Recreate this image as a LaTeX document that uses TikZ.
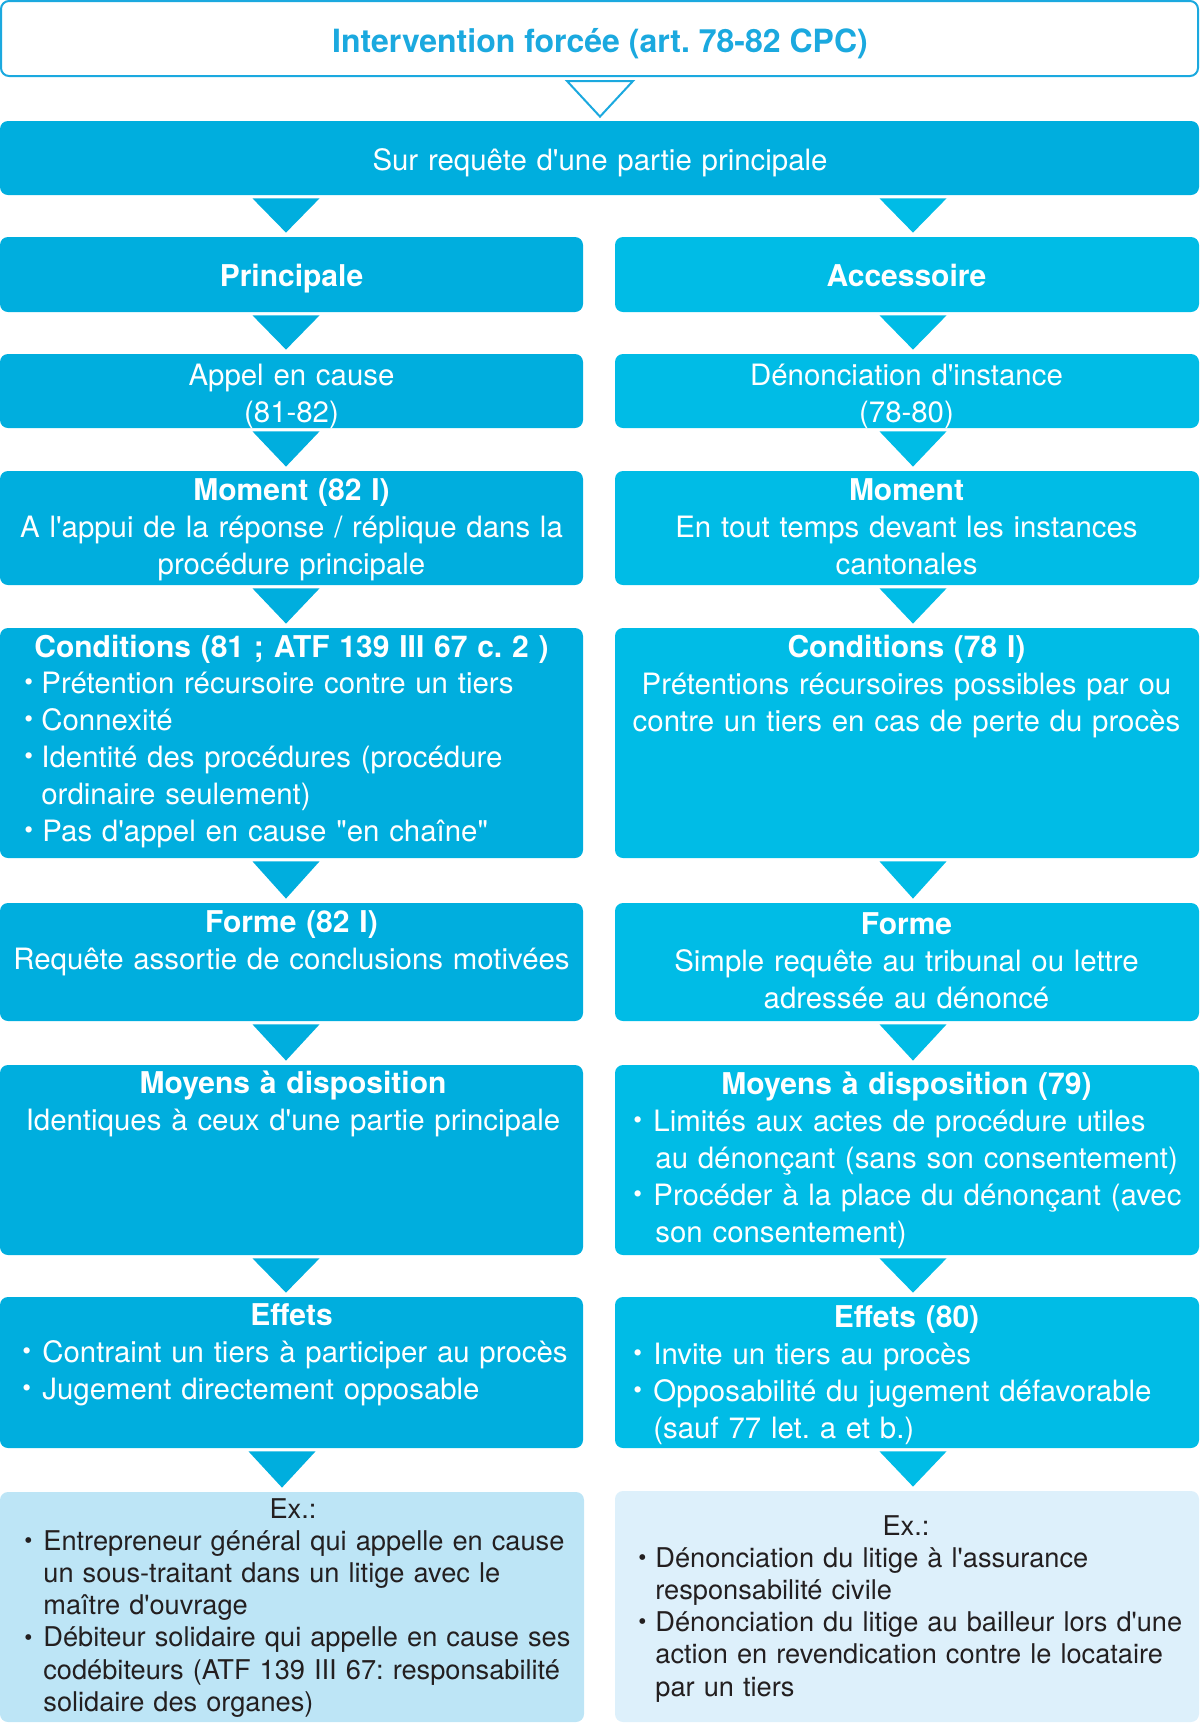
\documentclass[tikz,border=0pt]{standalone}
\usepackage{fontspec}
\setmainfont{TeX Gyre Heros}[Ligatures=TeXOff]
\usepackage{graphicx}
\usetikzlibrary{fit,calc}
\frenchspacing
\definecolor{lcol}{HTML}{00AEDE}
\definecolor{rcol}{HTML}{00BCE6}
\definecolor{tcol}{HTML}{1BA9DF}
\definecolor{exl}{HTML}{BDE5F6}
\definecolor{exr}{HTML}{DDF0FB}
\definecolor{extext}{HTML}{231F20}
\newcommand\bodyfont{\frenchspacing\fontsize{14.7}{18.5}\selectfont}
\newcommand\exfont{\frenchspacing\fontsize{13.6}{16.15}\selectfont}
\newcommand\hd[1]{{\fontsize{15}{18.5}\selectfont\bfseries #1}}
\newcommand\bul[1][7pt]{\makebox[#1][l]{\raisebox{0.07em}{\scalebox{0.85}{•}}}}
\newcommand\ind[1][7pt]{\hspace*{#1}}
\newcommand\arrowtri[4]{%
  \fill[#4] ($(#1.south -| #3)+(-33.5,3)$) -- ($(#1.south -| #3)+(33.5,3)$) -- ($(#2.north -| #3)+(0,-4)$) -- cycle;}
\begin{document}
\begin{tikzpicture}[x=0.5pt,y=-0.5pt,
  lbox/.style={fill=lcol, draw=none, rounded corners=4pt, inner sep=0pt},
  rbox/.style={fill=rcol, draw=none, rounded corners=4pt, inner sep=0pt},
  exlbox/.style={fill=exl, draw=none, rounded corners=4pt, inner sep=0pt},
  exrbox/.style={fill=exr, draw=none, rounded corners=4pt, inner sep=0pt},
  tbox/.style={fill=white, draw=tcol, line width=1pt, rounded corners=4pt, inner sep=0pt},
  titletext/.style={text=tcol, font=\frenchspacing\fontsize{16}{19}\selectfont\bfseries, inner sep=0pt, anchor=base},
  ctext/.style={text=white, font=\bodyfont, text width=300pt, align=center, inner sep=0pt, anchor=base},
  btext/.style={text=white, font=\bodyfont, text width=295pt, align=left, inner sep=0pt, anchor=base west},
  exhead/.style={text=extext, font=\exfont, text width=290pt, align=center, inner sep=0pt, anchor=base},
  exbody/.style={text=extext, font=\exfont, text width=290pt, align=left, inner sep=0pt, anchor=base west},
]
\useasboundingbox (0,0) rectangle (1200,1726);
\coordinate (mid) at (600,0);
\coordinate (cl) at (286,0);
\coordinate (cr) at (913,0);
\coordinate (clx) at (282,0);

% title
\node[tbox, fit={(1,1)(1198,76)}] (title) {};
\node[titletext] (titleT) at (600,52) {Intervention forcée (art. 78-82 CPC)};
\node[lbox, fit={(0,121)(1199,195)}] (sur) {};
\node[ctext, text width=500pt] (surT) at (600,170) {Sur requête d'une partie principale};
\filldraw[fill=white, draw=tcol, line width=1pt, line join=miter]
  ($(title.south -| mid)+(-33,4)$) -- ($(title.south -| mid)+(33,4)$) -- ($(sur.north -| mid)+(0,-4)$) -- cycle;

% left column boxes
\node[lbox, fit={(0,237)(583,312)}] (prin) {};
\node[lbox, fit={(0,354)(583,428)}] (appel) {};
\node[lbox, fit={(0,471)(583,585)}] (momL) {};
\node[lbox, fit={(0,628)(583,858)}] (condL) {};
\node[lbox, fit={(0,903)(583,1021)}] (formL) {};
\node[lbox, fit={(0,1065)(583,1255)}] (moyL) {};
\node[lbox, fit={(0,1297)(583,1448)}] (effL) {};
\node[exlbox, fit={(0,1492)(584,1722)}] (exL) {};

% right column boxes
\node[rbox, fit={(615,237)(1199,312)}] (acc) {};
\node[rbox, fit={(615,354)(1199,428)}] (denon) {};
\node[rbox, fit={(615,471)(1199,585)}] (momR) {};
\node[rbox, fit={(615,628)(1199,858)}] (condR) {};
\node[rbox, fit={(615,903)(1199,1021)}] (formR) {};
\node[rbox, fit={(615,1065)(1199,1255)}] (moyR) {};
\node[rbox, fit={(615,1297)(1199,1448)}] (effR) {};
\node[exrbox, fit={(615,1491)(1199,1722)}] (exR) {};

% arrows
\arrowtri{sur}{prin}{cl}{lcol}
\arrowtri{sur}{acc}{cr}{rcol}
\arrowtri{prin}{appel}{cl}{lcol}
\arrowtri{appel}{momL}{cl}{lcol}
\arrowtri{momL}{condL}{cl}{lcol}
\arrowtri{condL}{formL}{cl}{lcol}
\arrowtri{formL}{moyL}{cl}{lcol}
\arrowtri{moyL}{effL}{cl}{lcol}
\arrowtri{effL}{exL}{clx}{lcol}
\arrowtri{acc}{denon}{cr}{rcol}
\arrowtri{denon}{momR}{cr}{rcol}
\arrowtri{momR}{condR}{cr}{rcol}
\arrowtri{condR}{formR}{cr}{rcol}
\arrowtri{formR}{moyR}{cr}{rcol}
\arrowtri{moyR}{effR}{cr}{rcol}
\arrowtri{effR}{exR}{cr}{rcol}

% left texts
\node[ctext] (prinT) at (291.5,286) {\hd{Principale}};
\node[ctext] (appelT) at (291.5,385) {Appel en cause\\(81-82)};
\node[ctext] (momLT) at (291.5,500) {\hd{Moment (82 I)}\\A l'appui de la réponse / réplique dans la\\procédure principale};
\node[ctext] (condLH) at (291.5,657) {\hd{Conditions (81 ; ATF 139 III 67 c. 2 )}};
\node[btext] (condLB) at (24,693) {\bul[8.5pt]Prétention récursoire contre un tiers\\
\bul[8.5pt]Connexité\\
\bul[8.5pt]Identité des procédures (procédure\\
\ind[8.5pt]ordinaire seulement)\\
\bul[9pt]Pas d'appel en cause "en chaîne"};
\node[ctext] (formLT) at (291.5,932) {\hd{Forme (82 I)}\\Requête assortie de conclusions motivées};
\node[ctext] (moyLT) at (293,1093) {\hd{Moyens à disposition}\\Identiques à ceux d'une partie principale};
\node[ctext] (effLH) at (291.5,1325) {\hd{Effets}};
\node[btext] (effLB) at (22,1362) {\bul[10pt]Contraint un tiers à participer au procès\\
\bul[10pt]Jugement directement opposable};
\node[exhead] (exLH) at (293,1518) {Ex.:};
\node[exbody] (exLB) at (24,1550) {\bul[9.5pt]Entrepreneur général qui appelle en cause\\
\ind[9.5pt]un sous-traitant dans un litige avec le\\
\ind[9.5pt]maître d'ouvrage\\
\bul[9.5pt]Débiteur solidaire qui appelle en cause ses\\
\ind[9.5pt]codébiteurs (ATF 139 III 67: responsabilité\\
\ind[9.5pt]solidaire des organes)};

% right texts
\node[ctext] (accT) at (906.5,286) {\hd{Accessoire}};
\node[ctext] (denonT) at (906.5,385) {Dénonciation d'instance\\(78-80)};
\node[ctext] (momRT) at (906.5,500) {\hd{Moment}\\En tout temps devant les instances\\cantonales};
\node[ctext] (condRT) at (906.5,657) {\hd{Conditions (78 I)}\\Prétentions récursoires possibles par ou\\contre un tiers en cas de perte du procès};
\node[ctext] (formRT) at (906.5,934) {\hd{Forme}\\Simple requête au tribunal ou lettre\\adressée au dénoncé};
\node[ctext] (moyRH) at (906.5,1094) {\hd{Moyens à disposition (79)}};
\node[btext] (moyRB) at (633,1131) {\bul[10pt]Limités aux actes de procédure utiles\\
\ind[11pt]au dénonçant (sans son consentement)\\
\bul[10pt]Procéder à la place du dénonçant (avec\\
\ind[11pt]son consentement)};
\node[ctext] (effRH) at (906.5,1327) {\hd{Effets (80)}};
\node[btext] (effRB) at (633,1364) {\bul[10pt]Invite un tiers au procès\\
\bul[10pt]Opposabilité du jugement défavorable\\
\ind[10pt](sauf 77 let. a et b.)};
\node[exhead] (exRH) at (906,1535) {Ex.:};
\node[exbody] (exRB) at (638,1567) {\bul[8.5pt]Dénonciation du litige à l'assurance\\
\ind[8.5pt]responsabilité civile\\
\bul[8.5pt]Dénonciation du litige au bailleur lors d'une\\
\ind[8.5pt]action en revendication contre le locataire\\
\ind[8.5pt]par un tiers};
\end{tikzpicture}
\end{document}
